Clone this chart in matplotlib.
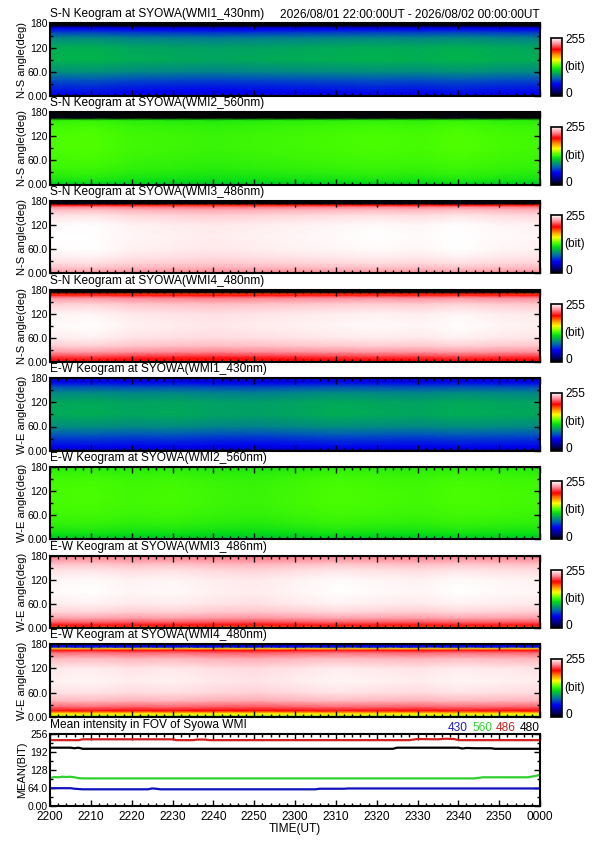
import numpy as np
import matplotlib
matplotlib.use('Agg')
import matplotlib.pyplot as plt
from matplotlib.colors import LinearSegmentedColormap
from matplotlib.ticker import MultipleLocator, FixedLocator, FixedFormatter

plt.rcParams['font.family'] = ['Liberation Sans', 'DejaVu Sans']

# ---- data -------------------------------------------------------------
# time in minutes after 22:00 UT
time_nodes = [0, 10, 20, 30, 40, 50, 60, 70, 80, 90, 100, 110, 120]
# angle nodes (deg) where the keogram profiles were read
ang_nodes = [0, 2, 5, 10, 15, 25, 40, 60, 90, 120, 145, 160, 166, 170, 174, 177, 180]

# brightness (bit) along the meridian, one list per keogram
sn_430 = [30, 45, 50, 52, 55, 60, 70, 88, 100, 98, 85, 62, 52, 45, 10, 0, 0]
sn_560 = [105, 110, 114, 118, 120, 123, 126, 128, 130, 130, 128, 124, 0, 0, 0, 0, 0]
sn_486 = [226, 229, 232, 236, 240, 245, 249, 252, 253, 252, 246, 236, 225, 200, 0, 0, 0]
sn_480 = [195, 200, 204, 208, 216, 230, 242, 249, 252, 250, 242, 228, 208, 195, 0, 0, 0]
ew_430 = [20, 30, 42, 50, 54, 60, 72, 88, 98, 97, 86, 68, 58, 52, 48, 45, 40]
ew_560 = [100, 105, 110, 114, 117, 121, 125, 128, 130, 130, 129, 127, 126, 125, 124, 123, 122]
ew_486 = [118, 150, 200, 210, 220, 233, 244, 250, 253, 252, 247, 240, 235, 232, 230, 228, 226]
ew_480 = [118, 122, 158, 168, 205, 222, 238, 247, 251, 249, 238, 222, 205, 165, 55, 48, 45]

# slow brightness changes with time (bit)
sn_drift = [2, 3, 0, -1, -2, -1, 0, 1, 2, 1, 3, 1, 0]
ew_drift = [1, 2, 0, 1, -1, -2, 0, 2, 1, 0, 2, 1, 0]

keo_titles = ['S-N Keogram at SYOWA(WMI1_430nm)', 'S-N Keogram at SYOWA(WMI2_560nm)',
              'S-N Keogram at SYOWA(WMI3_486nm)', 'S-N Keogram at SYOWA(WMI4_480nm)',
              'E-W Keogram at SYOWA(WMI1_430nm)', 'E-W Keogram at SYOWA(WMI2_560nm)',
              'E-W Keogram at SYOWA(WMI3_486nm)', 'E-W Keogram at SYOWA(WMI4_480nm)']
keo_profiles = [sn_430, sn_560, sn_486, sn_480, ew_430, ew_560, ew_486, ew_480]
keo_drifts = [sn_drift] * 4 + [ew_drift] * 4
keo_ylabels = ['N-S angle(deg)'] * 4 + ['W-E angle(deg)'] * 4

# mean intensity in FOV
t_430 = [0, 5, 6, 7, 8, 24, 25, 26, 27, 65, 66, 72, 73, 120]
m_430 = [62, 62, 60, 59, 58, 58, 61, 60, 58, 58, 60, 60, 61, 61]
t_560 = [0, 1, 2, 3, 4, 5, 6, 7, 8, 104, 106, 117, 119, 120]
m_560 = [98, 102, 101, 103, 102, 103, 101, 98, 97, 97, 101, 101, 106, 110]
t_486 = [0, 7, 8, 30, 31, 35, 36, 38, 39, 88, 90, 95, 97, 99, 100, 120]
m_486 = [234, 234, 237, 237, 234, 234, 236, 236, 234, 234, 238, 237, 239, 238, 234, 234]
t_480 = [0, 5, 6, 7, 8, 84, 85, 100, 101, 102, 104, 108, 109, 120]
m_480 = [207, 207, 205, 207, 203, 203, 207, 207, 204, 206, 205, 205, 203, 203]

time_labels = ['2200', '2210', '2220', '2230', '2240', '2250', '2300', '2310',
               '2320', '2330', '2340', '2350', '0000']

# ---- colours ----------------------------------------------------------
cmap = LinearSegmentedColormap.from_list('wmi', [
    (0.00, (0.0, 0.0, 0.0)), (0.08, (0.0, 0.0, 0.45)), (0.20, (0.0, 0.0, 0.95)),
    (0.30, (0.0, 0.40, 0.70)), (0.45, (0.0, 0.85, 0.10)), (0.52, (0.30, 1.0, 0.0)),
    (0.62, (1.0, 1.0, 0.0)), (0.70, (1.0, 0.60, 0.0)), (0.80, (1.0, 0.0, 0.0)),
    (0.90, (1.0, 0.55, 0.60)), (1.00, (1.0, 1.0, 1.0))])

W, H = 595, 842
fig = plt.figure(figsize=(W / 100, H / 100), dpi=100)

LEFT, RIGHT = 50, 540
TOP0, STEP, PH = 23.5, 88.7, 72.3
FS = 7.5     # tick labels
TFS = 8.6    # titles


def px_axes(x0, top, w, h):
    return fig.add_axes([x0 / W, 1 - (top + h) / H, w / W, h / H])


def style(ax, ymaj, ylabels, ymin):
    ax.set_xlim(0, 120)
    ax.xaxis.set_major_locator(MultipleLocator(10))
    ax.xaxis.set_minor_locator(MultipleLocator(2))
    ax.yaxis.set_major_locator(FixedLocator(ymaj))
    ax.yaxis.set_major_formatter(FixedFormatter(ylabels))
    ax.yaxis.set_minor_locator(MultipleLocator(ymin))
    ax.tick_params(which='both', direction='in', top=True, right=True,
                   width=1.0, labelsize=FS, pad=1.5, colors='black')
    ax.tick_params(which='major', length=4.5)
    ax.tick_params(which='minor', length=2.5)
    for s in ax.spines.values():
        s.set_linewidth(1.5)


for i in range(8):
    top = TOP0 + i * STEP
    ax = px_axes(LEFT, top, RIGHT - LEFT, PH)
    z = np.add.outer(np.array(keo_profiles[i], float), np.array(keo_drifts[i], float))
    z = np.clip(z, 0, 255)
    mesh = ax.pcolormesh(time_nodes, ang_nodes, z, shading='gouraud',
                         cmap=cmap, vmin=0, vmax=255)
    ax.set_ylim(0, 180)
    style(ax, [0, 60, 120, 180], ['0.00', '60.0', '120', '180'], 30)
    ax.tick_params(axis='x', labelbottom=False)
    ax.set_ylabel(keo_ylabels[i], fontsize=8)
    ax.yaxis.set_label_coords(-23 / (RIGHT - LEFT), 0.5)
    fig.text(LEFT / W, 1 - (top - 9) / H, keo_titles[i], fontsize=TFS,
             ha='left', va='center')

    cax = px_axes(551, top + PH - 58, 11, 58)
    cb = fig.colorbar(mesh, cax=cax, ticks=[])
    cb.outline.set_linewidth(1.2)
    cax.text(1.3, 0.97, '255', transform=cax.transAxes, ha='left', va='center', fontsize=TFS)
    cax.text(1.2, 0.5, '(bit)', transform=cax.transAxes, ha='left', va='center', fontsize=TFS)
    cax.text(1.3, 0.03, '0', transform=cax.transAxes, ha='left', va='center', fontsize=TFS)

fig.text(RIGHT / W, 1 - (TOP0 - 9) / H,
         '2026/08/01 22:00:00UT - 2026/08/02 00:00:00UT',
         fontsize=TFS, ha='right', va='center')

# mean intensity panel
top = 734
ax = px_axes(LEFT, top, RIGHT - LEFT, 71.5)
ax.plot(t_486, m_486, color='#d02020', lw=1.6)
ax.plot(t_480, m_480, color='black', lw=1.6)
ax.plot(t_560, m_560, color='#30d030', lw=1.6)
ax.plot(t_430, m_430, color='#1010c0', lw=1.6)
ax.set_ylim(0, 256)
style(ax, [0, 64, 128, 192, 256], ['0.00', '64.0', '128', '192', '256'], 32)
ax.set_xticks(time_nodes)
ax.set_xticklabels(time_labels, fontsize=TFS)
ax.tick_params(axis='x', pad=4)
ax.set_ylabel('MEAN(BIT)', fontsize=8)
ax.yaxis.set_label_coords(-23 / (RIGHT - LEFT), 0.5)
ax.set_xlabel('TIME(UT)', fontsize=TFS, labelpad=0)
fig.text(LEFT / W, 1 - (top - 9) / H, 'Mean intensity in FOV of Syowa WMI',
         fontsize=TFS, ha='left', va='center')

leg = [('430', '#2020c0'), ('560', '#30d030'), ('486', '#d02020'), ('480', 'black')]
x = RIGHT
for txt, col in reversed(leg):
    fig.text(x / W, 1 - (top - 6) / H, txt, color=col, fontsize=TFS,
             ha='right', va='center')
    x -= 24

fig.savefig('out.png', dpi=100, facecolor='white')
